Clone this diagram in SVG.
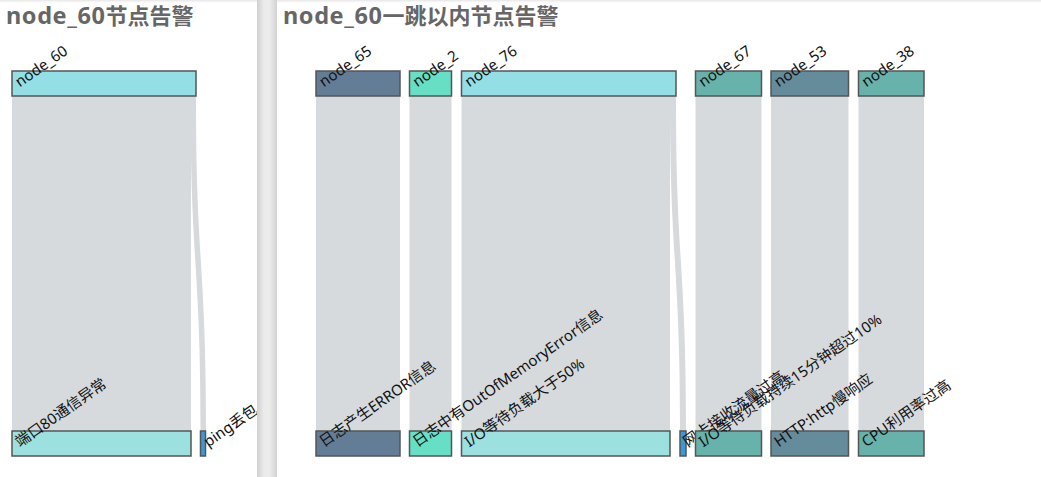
<svg xmlns="http://www.w3.org/2000/svg" width="1041" height="477" viewBox="0 0 1041 477">
<style>
.title{font-family:"Noto Sans","Noto Sans CJK SC",sans-serif;font-size:22px;font-weight:bold;fill:#666}
.lat{font-size:23.5px;letter-spacing:0.6px}
.lbl{font-family:"Noto Sans","Noto Sans CJK SC",sans-serif;font-size:15px;fill:#111}
.node{stroke:#555;stroke-width:1.5}
.link{fill:#d6dadd;stroke:none}
.c-cyan{fill:#94dfe6}.c-cyan2{fill:#9de0e0}.c-blue{fill:#3a9ad8}.c-slate{fill:#647d96}
.c-mint{fill:#66dfc5}.c-teal{fill:#67b3ab}.c-steel{fill:#648c9b}
</style>
<defs>
<linearGradient id="divider" x1="0" y1="0" x2="1" y2="0">
<stop offset="0" stop-color="#cfcfcf"/><stop offset="0.35" stop-color="#ebebeb"/><stop offset="0.65" stop-color="#ebebeb"/><stop offset="1" stop-color="#d2d2d2"/>
</linearGradient>
<linearGradient id="topshade" x1="0" y1="0" x2="0" y2="1">
<stop offset="0" stop-color="#e4e4e4"/><stop offset="1" stop-color="#ffffff" stop-opacity="0"/>
</linearGradient>
<clipPath id="leftclip"><rect x="0" y="0" width="257" height="477"/></clipPath>
</defs>
<rect x="0" y="0" width="1041" height="477" fill="#fff"/>
<rect x="0" y="0" width="1041" height="4" fill="url(#topshade)"/>

<g id="left-panel" clip-path="url(#leftclip)">
<text class="title" x="6" y="24"><tspan class="lat">node_60</tspan>节点告警</text>
<g id="left-links">
<rect class="link" x="12" y="96" width="179" height="335"/>
<path class="link" d="M190.5,96 C190.5,263.5 200.5,263.5 200.5,431 L206,431 C206,263.5 196,263.5 196,96 Z"/>
</g>
<g id="node_60">
<rect class="node c-cyan" x="12" y="71" width="184" height="25"/>
<text class="lbl" transform="translate(17,83.5) rotate(-35)" dy="5">node_60</text>
</g>
<g id="port80">
<rect class="node c-cyan2" x="12" y="431" width="179" height="25"/>
<text class="lbl" transform="translate(17,443.5) rotate(-35)" dy="5">端口80通信异常</text>
</g>
<g id="ping">
<rect class="node c-blue" x="200.5" y="431" width="5" height="25"/>
<text class="lbl" transform="translate(205.5,443.5) rotate(-35)" dy="5">ping丢包</text>
</g>
</g>

<rect id="divider-bar" x="257" y="0" width="20" height="477" fill="url(#divider)"/>

<g id="right-panel">
<text class="title" x="283" y="24"><tspan class="lat">node_60</tspan>一跳以内节点告警</text>
<g id="right-links">
<rect class="link" x="316" y="96" width="84" height="335"/>
<rect class="link" x="409.5" y="96" width="42" height="335"/>
<rect class="link" x="461.5" y="96" width="208.5" height="335"/>
<path class="link" d="M670,96 C670,263.5 680,263.5 680,431 L686,431 C686,263.5 676,263.5 676,96 Z"/>
<rect class="link" x="695.5" y="96" width="66" height="335"/>
<rect class="link" x="771" y="96" width="77.5" height="335"/>
<rect class="link" x="858.5" y="96" width="65.5" height="335"/>
</g>
<g id="node_65">
<rect class="node c-slate" x="316" y="71" width="84" height="25"/>
<text class="lbl" transform="translate(321,83.5) rotate(-35)" dy="5">node_65</text>
</g>
<g id="node_2">
<rect class="node c-mint" x="409.5" y="71" width="42" height="25"/>
<text class="lbl" transform="translate(414.5,83.5) rotate(-35)" dy="5">node_2</text>
</g>
<g id="node_76">
<rect class="node c-cyan" x="461.5" y="71" width="214.5" height="25"/>
<text class="lbl" transform="translate(466.5,83.5) rotate(-35)" dy="5">node_76</text>
</g>
<g id="node_67">
<rect class="node c-teal" x="695.5" y="71" width="66" height="25"/>
<text class="lbl" transform="translate(700.5,83.5) rotate(-35)" dy="5">node_67</text>
</g>
<g id="node_53">
<rect class="node c-steel" x="771" y="71" width="77.5" height="25"/>
<text class="lbl" transform="translate(776,83.5) rotate(-35)" dy="5">node_53</text>
</g>
<g id="node_38">
<rect class="node c-teal" x="858.5" y="71" width="65.5" height="25"/>
<text class="lbl" transform="translate(863.5,83.5) rotate(-35)" dy="5">node_38</text>
</g>
<g id="log_error">
<rect class="node c-slate" x="316" y="431" width="84" height="25"/>
<text class="lbl" transform="translate(321,443.5) rotate(-35)" dy="5">日志产生ERROR信息</text>
</g>
<g id="log_oom">
<rect class="node c-mint" x="409.5" y="431" width="42" height="25"/>
<text class="lbl" transform="translate(414.5,443.5) rotate(-35)" dy="5">日志中有OutOfMemoryError信息</text>
</g>
<g id="io50">
<rect class="node c-cyan2" x="461.5" y="431" width="208.5" height="25"/>
<text class="lbl" transform="translate(466.5,443.5) rotate(-35)" dy="5">I/O等待负载大于50%</text>
</g>
<g id="nic">
<rect class="node c-blue" x="680" y="431" width="6" height="25"/>
<text class="lbl" transform="translate(685,443.5) rotate(-35)" dy="5">网卡接收流量过高</text>
</g>
<g id="io15">
<rect class="node c-teal" x="695.5" y="431" width="66" height="25"/>
<text class="lbl" transform="translate(700.5,443.5) rotate(-35)" dy="5">I/O等待负载持续15分钟超过10%</text>
</g>
<g id="http">
<rect class="node c-steel" x="771" y="431" width="77.5" height="25"/>
<text class="lbl" transform="translate(776,443.5) rotate(-35)" dy="5">HTTP:http慢响应</text>
</g>
<g id="cpu">
<rect class="node c-teal" x="858.5" y="431" width="65.5" height="25"/>
<text class="lbl" transform="translate(863.5,443.5) rotate(-35)" dy="5">CPU利用率过高</text>
</g>
</g>
</svg>
